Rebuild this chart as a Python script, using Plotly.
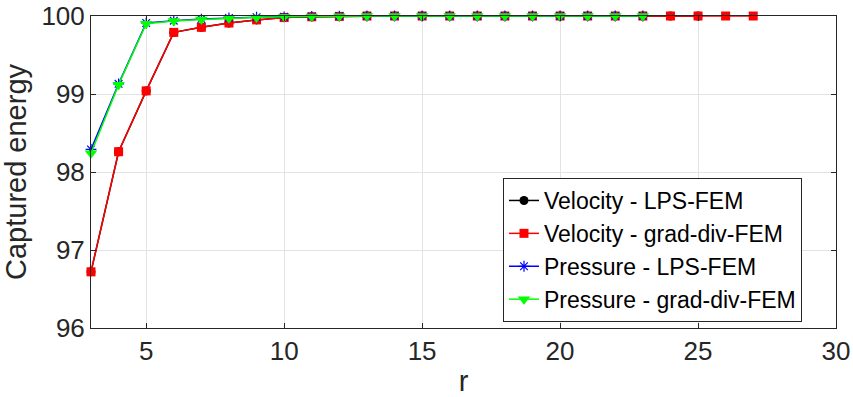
import plotly.graph_objects as go

r_vel_lps = list(range(3, 26))
vel_lps = [96.72, 98.26, 99.04, 99.79, 99.855, 99.91, 99.95, 99.98, 99.99,
           99.995] + [100.0] * 13
r_vel_gd = list(range(3, 28))
vel_gd = [96.72, 98.26, 99.04, 99.79, 99.855, 99.91, 99.95, 99.98, 99.99,
          99.995] + [100.0] * 15
r_pres_lps = list(range(3, 24))
pres_lps = [98.29, 99.13, 99.91, 99.94, 99.96, 99.975, 99.985, 99.99, 99.995,
            99.998] + [100.0] * 11
r_pres_gd = list(range(3, 24))
pres_gd = [98.24, 99.12, 99.90, 99.935, 99.955, 99.97, 99.98, 99.99, 99.995,
           99.998] + [100.0] * 11

names = ["Velocity - LPS-FEM", "Velocity - grad-div-FEM",
         "Pressure - LPS-FEM", "Pressure - grad-div-FEM"]

fig = go.Figure()
fig.add_trace(go.Scatter(x=r_vel_lps, y=vel_lps, name=names[0], mode="lines+markers",
                         line=dict(color="#000000", width=1.5),
                         marker=dict(symbol="circle", size=9, color="#000000"),
                         cliponaxis=False))
fig.add_trace(go.Scatter(x=r_vel_gd, y=vel_gd, name=names[1], mode="lines+markers",
                         line=dict(color="#ff0000", width=1.5),
                         marker=dict(symbol="square", size=9, color="#ff0000"),
                         cliponaxis=False))
fig.add_trace(go.Scatter(x=r_pres_lps, y=pres_lps, name=names[2], mode="lines+markers",
                         line=dict(color="#0000ff", width=1.5),
                         marker=dict(symbol="asterisk-open", size=9,
                                     line=dict(color="#0000ff", width=1.2)),
                         cliponaxis=False))
fig.add_trace(go.Scatter(x=r_pres_gd, y=pres_gd, name=names[3], mode="lines+markers",
                         line=dict(color="#00ff00", width=1.5),
                         marker=dict(symbol="triangle-down", size=11, color="#00ff00"),
                         cliponaxis=False))

axis_common = dict(showline=True, linecolor="#262626", linewidth=1, mirror="ticks",
                   ticks="inside", ticklen=5, tickcolor="#262626",
                   showgrid=True, gridcolor="#e3e3e3", gridwidth=1, zeroline=False,
                   automargin=False,
                   tickfont=dict(family="Liberation Sans", size=26, color="#262626"))

fig.update_layout(
    width=853, height=397,
    margin=dict(l=91, r=17, t=16, b=69),
    paper_bgcolor="white", plot_bgcolor="white",
    font=dict(family="Liberation Sans", color="#262626"),
    xaxis=dict(range=[3, 30], tickvals=[5, 10, 15, 20, 25, 30],
               title=dict(text="r", font=dict(size=29, color="#262626")),
               **axis_common),
    yaxis=dict(range=[96, 100], tickvals=[96, 97, 98, 99, 100],
               title=dict(text="Captured energy", font=dict(size=29, color="#262626")),
               **axis_common),
    legend=dict(x=0.553, y=0.25, xanchor="left", yanchor="middle",
                bgcolor="white", bordercolor="#262626", borderwidth=1,
                font=dict(family="Liberation Sans", size=23, color="#000000"),
                tracegroupgap=0, itemwidth=30),
    showlegend=True,
)

fig.write_html("out.html")
